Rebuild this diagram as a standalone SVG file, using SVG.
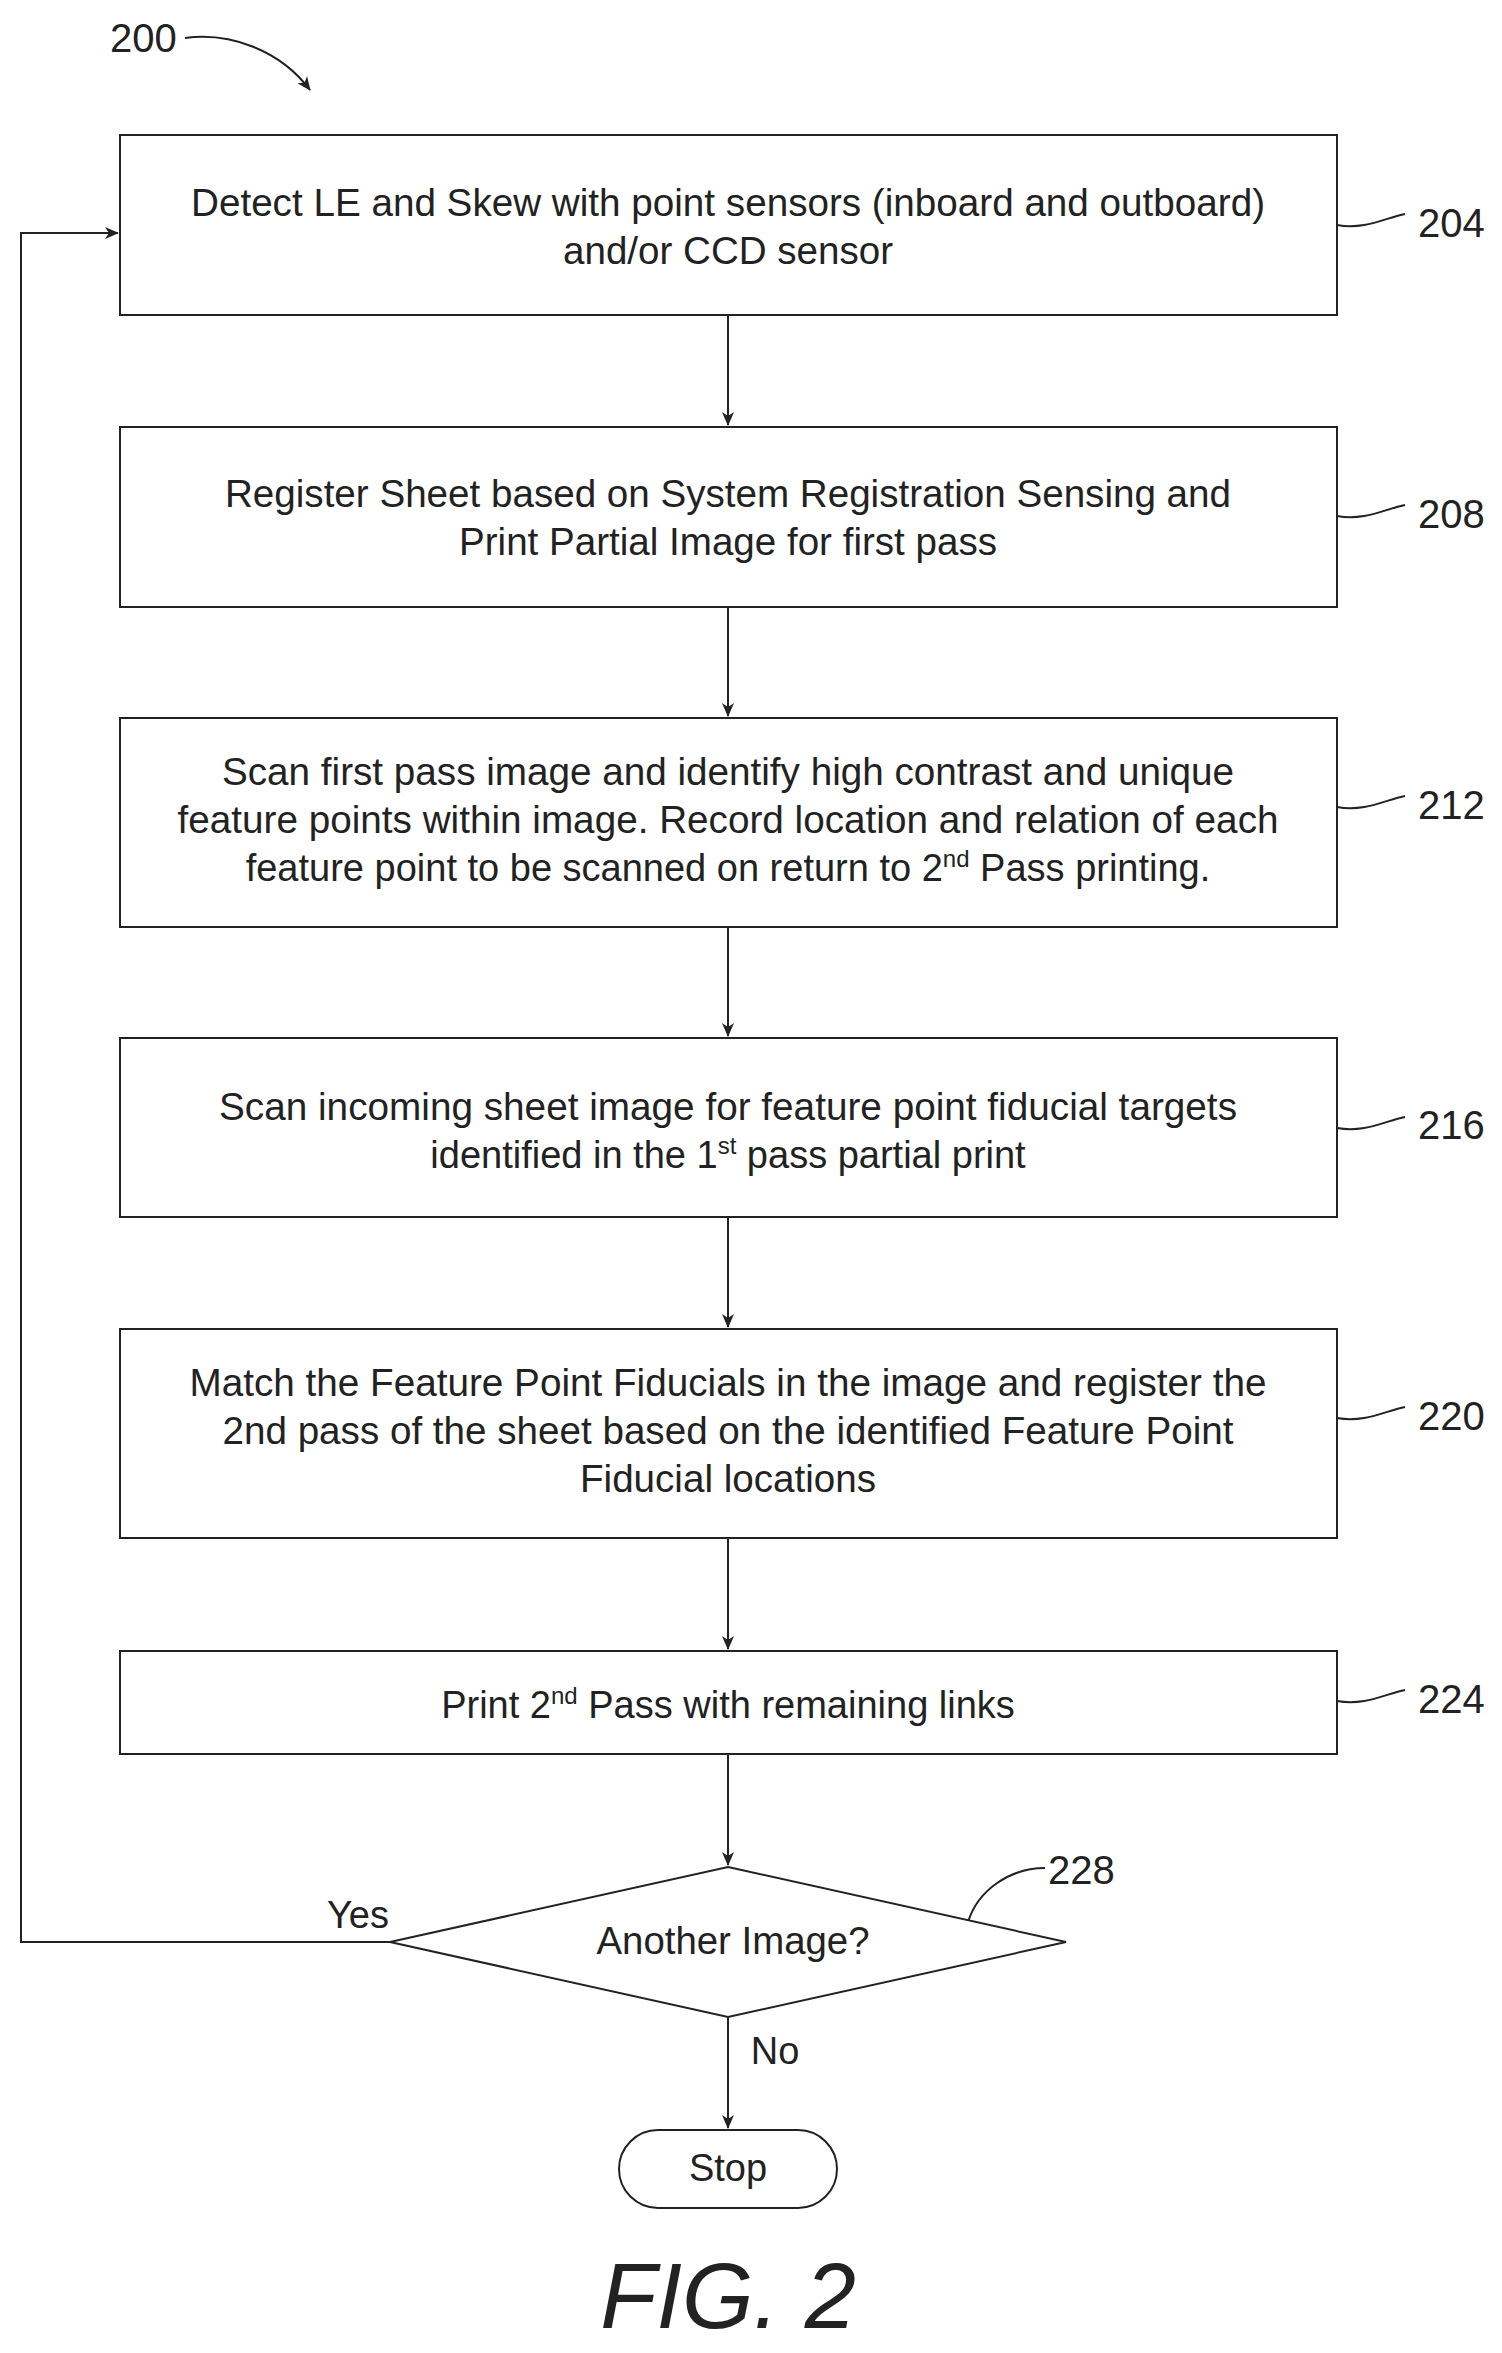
<svg xmlns="http://www.w3.org/2000/svg" width="1502" height="2353" viewBox="0 0 1502 2353">
<style>
text{font-family:"Liberation Sans",Arial,sans-serif;fill:#222}
.t{font-size:38px;text-anchor:middle}
.r{font-size:40px}
.b{fill:#fff;stroke:#222;stroke-width:2}
.c{fill:none;stroke:#222;stroke-width:2}
.s{font-size:24px}
</style>
<defs><marker id="a" markerWidth="14" markerHeight="14" refX="13" refY="7" orient="auto" markerUnits="userSpaceOnUse"><path d="M0,1 L14,7 L0,13 L4,7 Z" fill="#222"/></marker></defs>
<g id="connectors">
<path class="c" d="M728,315 V425" marker-end="url(#a)"/>
<path class="c" d="M728,607 V716" marker-end="url(#a)"/>
<path class="c" d="M728,927 V1036" marker-end="url(#a)"/>
<path class="c" d="M728,1217 V1327" marker-end="url(#a)"/>
<path class="c" d="M728,1538 V1649" marker-end="url(#a)"/>
<path class="c" d="M728,1754 V1865" marker-end="url(#a)"/>
<path class="c" d="M728,2017 V2128" marker-end="url(#a)"/>
<path class="c" d="M390,1942 H21 V233 H118" marker-end="url(#a)"/>
<path class="c" d="M185,38 C230,32 280,50 310,90" marker-end="url(#a)"/>
<path class="c" d="M1337,225 C1365,230 1385,218 1405,214"/>
<path class="c" d="M1337,516 C1365,521 1385,509 1405,505"/>
<path class="c" d="M1337,807 C1365,812 1385,800 1405,796"/>
<path class="c" d="M1337,1128 C1365,1133 1385,1121 1405,1117"/>
<path class="c" d="M1337,1418 C1365,1423 1385,1411 1405,1407"/>
<path class="c" d="M1337,1701 C1365,1706 1385,1694 1405,1690"/>
<path class="c" d="M968,1922 C978,1890 1010,1868 1045,1868"/>
</g>
<text class="r" x="110" y="52">200</text>
<g id="n204"><rect class="b" x="120" y="135" width="1217" height="180"/>
<text class="t" x="728" y="216" textLength="1074" lengthAdjust="spacingAndGlyphs">Detect LE and Skew with point sensors (inboard and outboard)</text>
<text class="t" x="728" y="264" textLength="330" lengthAdjust="spacingAndGlyphs">and/or CCD sensor</text>
<text class="r" x="1418" y="237">204</text></g>
<g id="n208"><rect class="b" x="120" y="427" width="1217" height="180"/>
<text class="t" x="728" y="507" textLength="1006" lengthAdjust="spacingAndGlyphs">Register Sheet based on System Registration Sensing and</text>
<text class="t" x="728" y="555" textLength="538" lengthAdjust="spacingAndGlyphs">Print Partial Image for first pass</text>
<text class="r" x="1418" y="528">208</text></g>
<g id="n212"><rect class="b" x="120" y="718" width="1217" height="209"/>
<text class="t" x="728" y="785" textLength="1012" lengthAdjust="spacingAndGlyphs">Scan first pass image and identify high contrast and unique</text>
<text class="t" x="728" y="833" textLength="1101" lengthAdjust="spacingAndGlyphs">feature points within image. Record location and relation of each</text>
<text class="t" x="728" y="881" font-size="36">feature point to be scanned on return to 2<tspan class="s" dy="-14">nd</tspan><tspan dy="14"> Pass printing.</tspan></text>
<text class="r" x="1418" y="819">212</text></g>
<g id="n216"><rect class="b" x="120" y="1038" width="1217" height="179"/>
<text class="t" x="728" y="1120" textLength="1018" lengthAdjust="spacingAndGlyphs">Scan incoming sheet image for feature point fiducial targets</text>
<text class="t" x="728" y="1168" font-size="36">identified in the 1<tspan class="s" dy="-14">st</tspan><tspan dy="14"> pass partial print</tspan></text>
<text class="r" x="1418" y="1139">216</text></g>
<g id="n220"><rect class="b" x="120" y="1329" width="1217" height="209"/>
<text class="t" x="728" y="1396" textLength="1077" lengthAdjust="spacingAndGlyphs">Match the Feature Point Fiducials in the image and register the</text>
<text class="t" x="728" y="1444" textLength="1011" lengthAdjust="spacingAndGlyphs">2nd pass of the sheet based on the identified Feature Point</text>
<text class="t" x="728" y="1492" textLength="296" lengthAdjust="spacingAndGlyphs">Fiducial locations</text>
<text class="r" x="1418" y="1430">220</text></g>
<g id="n224"><rect class="b" x="120" y="1651" width="1217" height="103"/>
<text class="t" x="728" y="1718" font-size="36">Print 2<tspan class="s" dy="-14">nd</tspan><tspan dy="14"> Pass with remaining links</tspan></text>
<text class="r" x="1418" y="1713">224</text></g>
<g id="n228"><polygon class="b" points="728,1867 1066,1942 728,2017 390,1942"/>
<text class="t" x="733" y="1954" textLength="273" lengthAdjust="spacingAndGlyphs">Another Image?</text>
<text class="r" x="1048" y="1884">228</text></g>
<text class="t" x="358" y="1928">Yes</text>
<text class="t" x="775" y="2064">No</text>
<g id="stop"><rect class="b" x="619" y="2130" width="218" height="78" rx="39"/>
<text class="t" x="728" y="2181">Stop</text></g>
<text x="728" y="2328" font-size="92" font-style="italic" text-anchor="middle">FIG. 2</text>
</svg>
